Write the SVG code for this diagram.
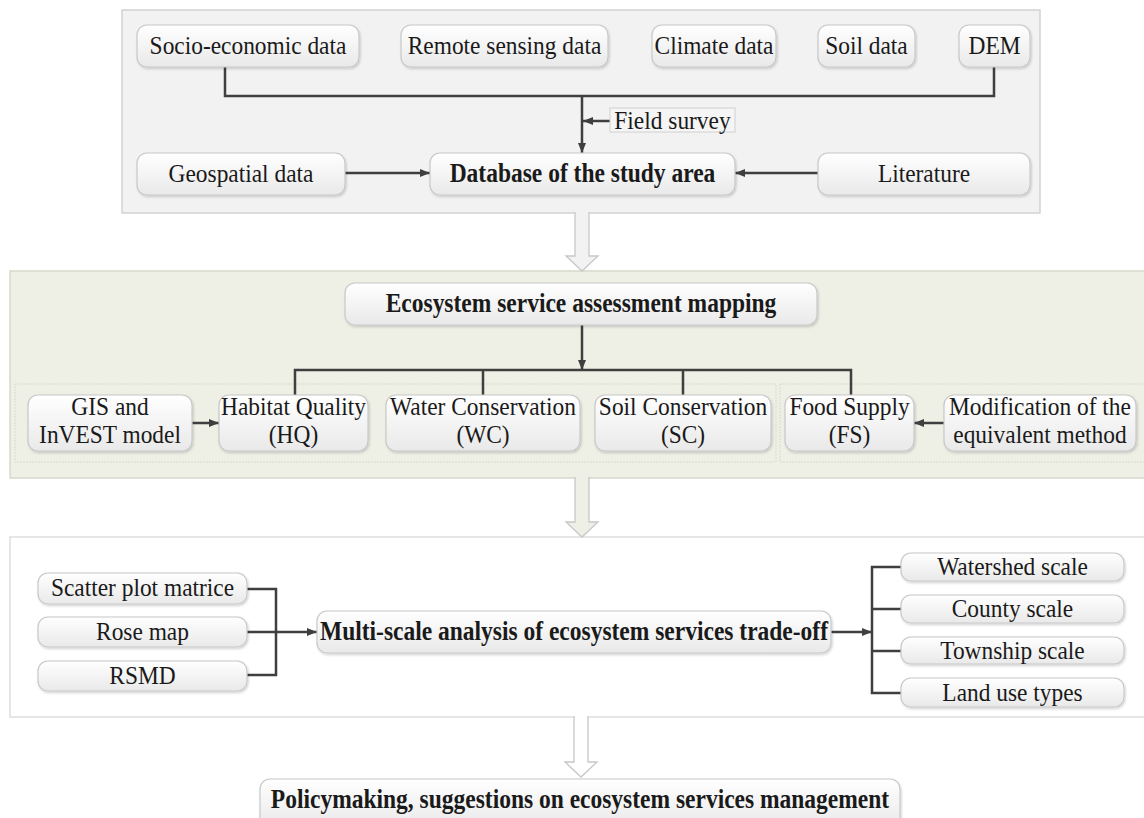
<svg xmlns="http://www.w3.org/2000/svg" width="1144" height="818" viewBox="0 0 1144 818">
<defs>
<linearGradient id="bg" x1="0" y1="0" x2="0" y2="1">
<stop offset="0" stop-color="#ffffff"/>
<stop offset="1" stop-color="#e9e9e9"/>
</linearGradient>
<filter id="sh" x="-5%" y="-20%" width="110%" height="150%">
<feDropShadow dx="1" dy="1.5" stdDeviation="1" flood-color="#000" flood-opacity="0.18"/>
</filter>
<marker id="ah" markerUnits="userSpaceOnUse" markerWidth="10" markerHeight="8" refX="10" refY="4" orient="auto">
<path d="M0,0 L10,4 L0,8 z" fill="#3f3f3f"/>
</marker>
</defs>
<style>
.box{fill:url(#bg);stroke:#c8c8c8;stroke-width:1.2;filter:url(#sh)}
.t{font-family:"Liberation Serif","Times New Roman",serif;font-size:26px;fill:#1a1a1a;text-anchor:middle}
.b{font-weight:bold;font-size:27px}
.c{fill:none;stroke:#3f3f3f;stroke-width:2.5}
.a{marker-end:url(#ah)}
.big{stroke:#c8c8c8;stroke-width:1.3}
</style>

<g id="panels">
<rect x="122" y="10" width="918" height="203" fill="#f2f2f2" stroke="#d2d2d2" stroke-width="1.5"/>
<rect x="10" y="271" width="1140" height="207" fill="#eef0e6" stroke="#d6d9cc" stroke-width="1.5"/>
<rect x="15" y="384" width="761" height="78" fill="#eef0e6" stroke="#d6dacb" stroke-width="1" stroke-dasharray="2,1"/>
<rect x="780" y="384" width="370" height="78" fill="#eef0e6" stroke="#d6dacb" stroke-width="1" stroke-dasharray="2,1"/>
<rect x="10" y="537" width="1140" height="180" fill="#ffffff" stroke="#dedede" stroke-width="1.5"/>
</g>

<g id="flow-arrows">
<path class="big" d="M575,212 V256 H566 L582,271 L598,256 H589 V212" fill="#f2f2f2"/>
<path class="big" d="M575,477 V522 H566 L582,537 L598,522 H589 V477" fill="#eef0e6"/>
<path class="big" d="M574,716 V762 H565 L581,777 L597,762 H588 V716" fill="#ffffff"/>
</g>

<g id="connectors">
<path class="c" d="M225,67 V96 H994 V67"/>
<path class="c a" d="M582,96 V153"/>
<path class="c a" d="M610,121 H583"/>
<path class="c a" d="M345,173 H430"/>
<path class="c a" d="M818,173 H735"/>
<path class="c a" d="M582,325 V370"/>
<path class="c" d="M295,395 V370 H851 V395 M483,370 V395 M683,370 V395"/>
<path class="c a" d="M192,423 H219"/>
<path class="c a" d="M944,423 H914"/>
<path class="c" d="M247,589 H276 V675 H247"/>
<path class="c a" d="M247,632 H317"/>
<path class="c a" d="M831,632 H872"/>
<path class="c" d="M901,567 H872 V693 H901 M872,609 H901 M872,651 H901"/>
</g>

<g id="n-socio"><rect class="box" x="137" y="25" width="222" height="42" rx="10"/><text class="t" transform="translate(248,54) scale(0.9,1)">Socio-economic data</text></g>
<g id="n-remote"><rect class="box" x="401" y="25" width="207" height="42" rx="10"/><text class="t" transform="translate(504.5,54) scale(0.9,1)">Remote sensing data</text></g>
<g id="n-climate"><rect class="box" x="652" y="25" width="124" height="42" rx="10"/><text class="t" transform="translate(714,54) scale(0.9,1)">Climate data</text></g>
<g id="n-soil"><rect class="box" x="818" y="25" width="97" height="42" rx="10"/><text class="t" transform="translate(866.5,54) scale(0.9,1)">Soil data</text></g>
<g id="n-dem"><rect class="box" x="959" y="25" width="71" height="42" rx="10"/><text class="t" transform="translate(994.5,54) scale(0.9,1)">DEM</text></g>
<g id="n-field"><rect x="610" y="108" width="125" height="24" fill="#f5f5f5" stroke="#d0d0d0" stroke-width="1"/><text class="t" transform="translate(672.5,129) scale(0.9,1)">Field survey</text></g>
<g id="n-geo"><rect class="box" x="137" y="153" width="208" height="42" rx="10"/><text class="t" transform="translate(241,182) scale(0.9,1)">Geospatial data</text></g>
<g id="n-db"><rect class="box" x="430" y="153" width="305" height="42" rx="10"/><text class="t b" transform="translate(582.5,182) scale(0.87,1)">Database of the study area</text></g>
<g id="n-lit"><rect class="box" x="818" y="153" width="212" height="42" rx="10"/><text class="t" transform="translate(924,182) scale(0.9,1)">Literature</text></g>

<g id="n-esam"><rect class="box" x="345" y="283" width="472" height="42" rx="10"/><text class="t b" transform="translate(581,312) scale(0.87,1)">Ecosystem service assessment mapping</text></g>
<g id="n-gis"><rect class="box" x="28" y="395" width="164" height="56" rx="10"/><text class="t" transform="translate(110,415) scale(0.9,1)">GIS and</text><text class="t" transform="translate(110,443) scale(0.9,1)">InVEST model</text></g>
<g id="n-hq"><rect class="box" x="219" y="395" width="149" height="56" rx="10"/><text class="t" transform="translate(293.5,415) scale(0.9,1)">Habitat Quality</text><text class="t" transform="translate(293.5,443) scale(0.9,1)">(HQ)</text></g>
<g id="n-wc"><rect class="box" x="386" y="395" width="194" height="56" rx="10"/><text class="t" transform="translate(483,415) scale(0.9,1)">Water Conservation</text><text class="t" transform="translate(483,443) scale(0.9,1)">(WC)</text></g>
<g id="n-sc"><rect class="box" x="595" y="395" width="176" height="56" rx="10"/><text class="t" transform="translate(683,415) scale(0.9,1)">Soil Conservation</text><text class="t" transform="translate(683,443) scale(0.9,1)">(SC)</text></g>
<g id="n-fs"><rect class="box" x="785" y="395" width="129" height="56" rx="10"/><text class="t" transform="translate(849.5,415) scale(0.9,1)">Food Supply</text><text class="t" transform="translate(849.5,443) scale(0.9,1)">(FS)</text></g>
<g id="n-mod"><rect class="box" x="944" y="395" width="192" height="56" rx="10"/><text class="t" transform="translate(1040,415) scale(0.9,1)">Modification of the</text><text class="t" transform="translate(1040,443) scale(0.9,1)">equivalent method</text></g>

<g id="n-scatter"><rect class="box" x="38" y="573" width="209" height="31" rx="10"/><text class="t" transform="translate(142.5,596) scale(0.9,1)">Scatter plot matrice</text></g>
<g id="n-rose"><rect class="box" x="38" y="617" width="209" height="30" rx="10"/><text class="t" transform="translate(142.5,640) scale(0.9,1)">Rose map</text></g>
<g id="n-rsmd"><rect class="box" x="38" y="661" width="209" height="30" rx="10"/><text class="t" transform="translate(142.5,684) scale(0.9,1)">RSMD</text></g>
<g id="n-multi"><rect class="box" x="317" y="611" width="514" height="42" rx="10"/><text class="t b" transform="translate(574,640) scale(0.87,1)">Multi-scale analysis of ecosystem services trade-off</text></g>
<g id="n-watershed"><rect class="box" x="901" y="553" width="223" height="28" rx="10"/><text class="t" transform="translate(1012.5,575) scale(0.9,1)">Watershed scale</text></g>
<g id="n-county"><rect class="box" x="901" y="595" width="223" height="28" rx="10"/><text class="t" transform="translate(1012.5,617) scale(0.9,1)">County scale</text></g>
<g id="n-township"><rect class="box" x="901" y="637" width="223" height="27" rx="10"/><text class="t" transform="translate(1012.5,659) scale(0.9,1)">Township scale</text></g>
<g id="n-landuse"><rect class="box" x="901" y="678" width="223" height="29" rx="10"/><text class="t" transform="translate(1012.5,701) scale(0.9,1)">Land use types</text></g>

<g id="n-policy"><rect class="box" x="260" y="779" width="640" height="50" rx="10"/><text class="t b" transform="translate(580,808) scale(0.87,1)">Policymaking, suggestions on ecosystem services management</text></g>
</svg>
